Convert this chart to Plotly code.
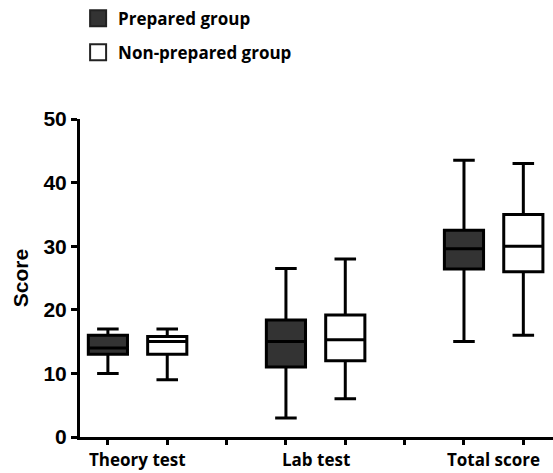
import plotly.graph_objects as go

categories = ["Theory test", "Lab test", "Total score"]
groups = ["Prepared group", "Non-prepared group"]

prep_min = [10, 3, 15]
prep_q1 = [13, 11, 26.4]
prep_med = [14, 15, 29.6]
prep_q3 = [16, 18.4, 32.5]
prep_max = [17, 26.5, 43.5]

non_min = [9, 6, 16]
non_q1 = [13, 12, 26]
non_med = [15, 15.3, 30]
non_q3 = [15.8, 19.2, 35]
non_max = [17, 28, 43]

fills = ["#333333", "#ffffff"]

# column positions (Prism style: two boxes per category plus a spacer column)
prep_x = [3 * i for i in range(len(categories))]
non_x = [3 * i + 1 for i in range(len(categories))]
label_x = [3 * i + 0.5 for i in range(len(categories))]
all_ticks = list(range(3 * len(categories) - 1))

fig = go.Figure()
for x, q1, med, q3, lo, hi, fill in [
    (prep_x, prep_q1, prep_med, prep_q3, prep_min, prep_max, fills[0]),
    (non_x, non_q1, non_med, non_q3, non_min, non_max, fills[1]),
]:
    fig.add_trace(go.Box(
        x=x, q1=q1, median=med, q3=q3, lowerfence=lo, upperfence=hi,
        width=0.66, whiskerwidth=0.55, fillcolor=fill,
        line=dict(color="black", width=3), showlegend=False,
        boxpoints=False, hoverinfo="skip",
    ))

for name, fill in zip(groups, fills):
    fig.add_trace(go.Scatter(
        x=[None], y=[None], mode="markers", name=name, legendgroup=name,
        marker=dict(symbol="square", size=18, color=fill,
                    line=dict(color="#222222", width=2)),
    ))

for cx, cat in zip(label_x, categories):
    fig.add_annotation(x=cx, y=0, xref="x", yref="paper", text=cat,
                       showarrow=False, yanchor="top", yshift=-9,
                       font=dict(family="Open Sans", size=17, color="black", weight="bold"))

fig.update_layout(
    width=553, height=473,
    margin=dict(l=80, r=0, t=119, b=36),
    plot_bgcolor="white", paper_bgcolor="white",
    boxmode="overlay",
    showlegend=True,
    legend=dict(x=-0.004, y=1.372, xanchor="left", yanchor="top",
                font=dict(family="Open Sans", size=17, color="black", weight="bold"),
                itemsizing="trace", bgcolor="rgba(0,0,0,0)",
                tracegroupgap=9),
    xaxis=dict(range=[-0.47, 7.5], tickvals=all_ticks, ticktext=[""] * len(all_ticks),
               ticks="outside", ticklen=5, tickwidth=3, tickcolor="black",
               showline=True, linecolor="black", linewidth=3,
               showgrid=False, zeroline=False),
    yaxis=dict(range=[0, 50], tickvals=[0, 10, 20, 30, 40, 50],
               ticks="outside", ticklen=6, tickwidth=3, tickcolor="black",
               showline=True, linecolor="black", linewidth=3,
               showgrid=False, zeroline=False,
               tickfont=dict(family="Liberation Sans", size=21, color="black", weight="bold"),
               title=dict(text="Score", standoff=10,
                          font=dict(family="Liberation Sans", size=21, color="black", weight="bold"))),
)

fig.write_html("out.html")
